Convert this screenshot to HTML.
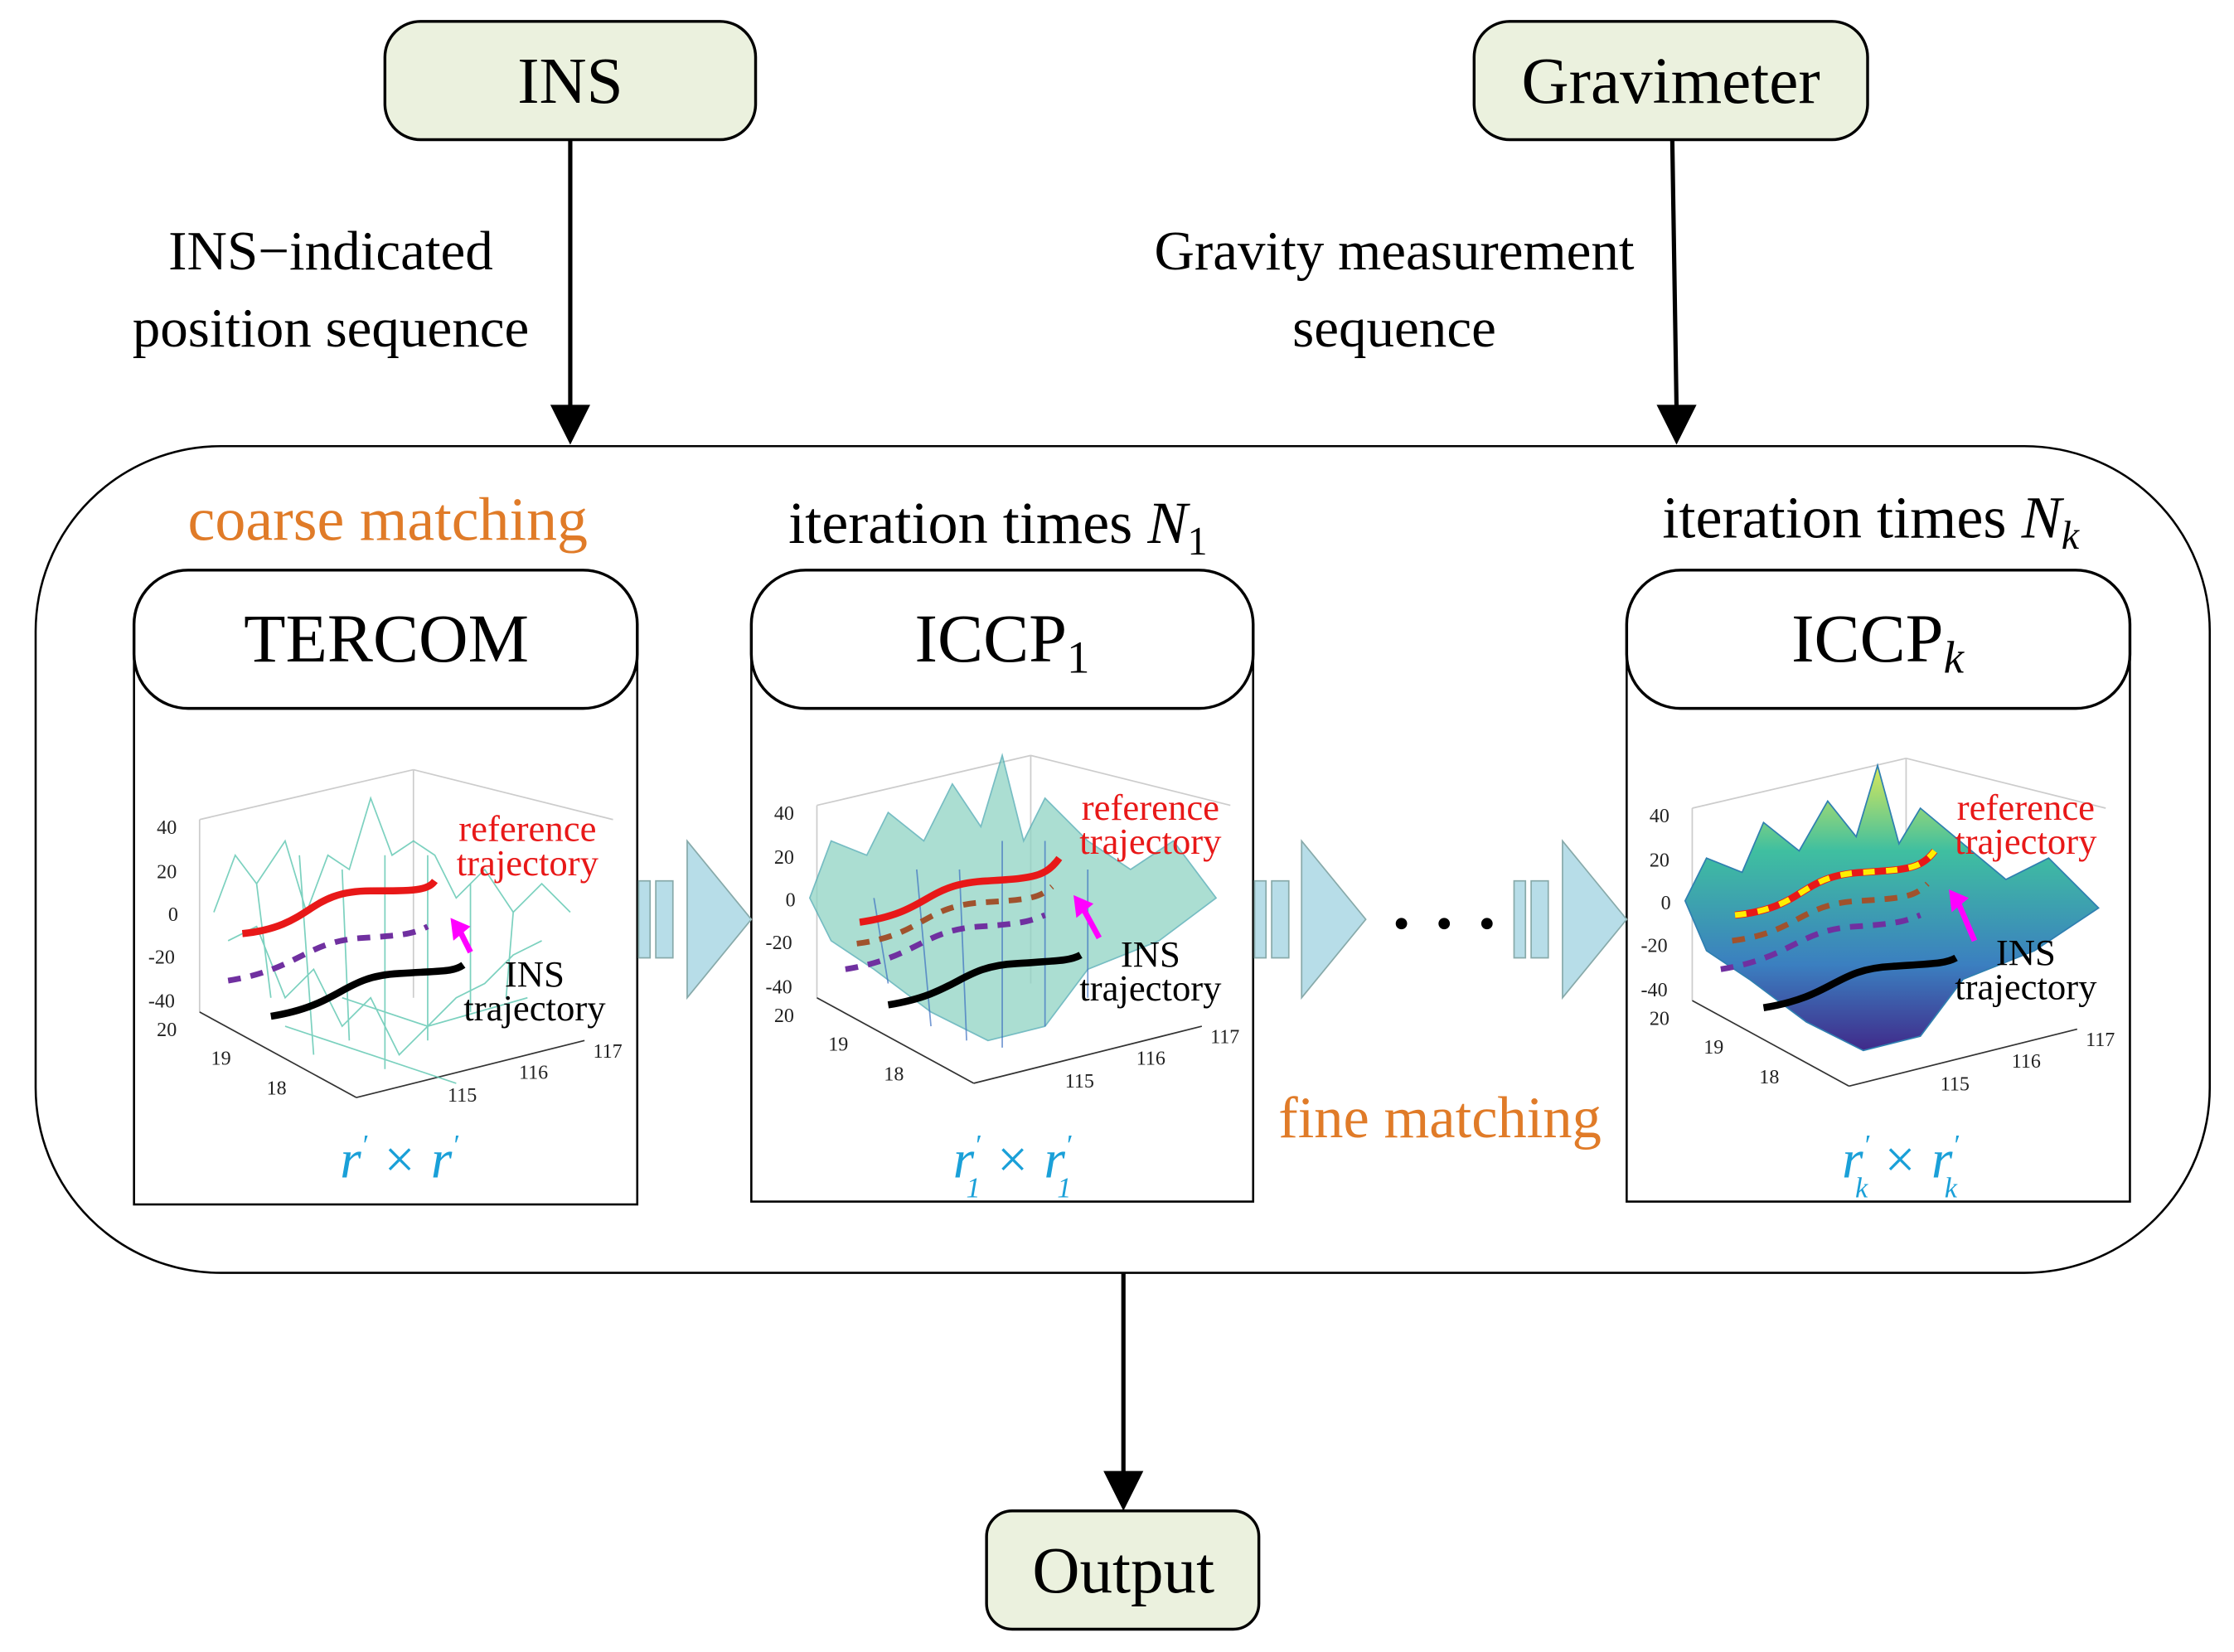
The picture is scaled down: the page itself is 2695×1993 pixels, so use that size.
<!DOCTYPE html>
<html><head><meta charset="utf-8">
<style>
html,body{margin:0;padding:0;background:#fff;}
svg{display:block;}
text{font-family:"Liberation Serif",serif;}
</style></head>
<body>
<svg width="2695" height="1993" viewBox="0 0 1567 1159" preserveAspectRatio="none" xmlns="http://www.w3.org/2000/svg">
<defs>
<linearGradient id="surf" x1="0" y1="0" x2="0" y2="1">
<stop offset="0" stop-color="#d8e85a"/><stop offset="0.3" stop-color="#3fbfa0"/><stop offset="0.7" stop-color="#3b7fc0"/><stop offset="1" stop-color="#402a8a"/>
</linearGradient>
<g id="plot">
<g stroke="#ccc" stroke-width="1" fill="none">
<line x1="140" y1="575" x2="290" y2="540"/><line x1="290" y1="540" x2="290" y2="700"/>
<line x1="290" y1="540" x2="430" y2="575"/><line x1="140" y1="575" x2="140" y2="710"/>
</g>
<g stroke="#333" stroke-width="1" fill="none">
<line x1="140" y1="710" x2="250" y2="770"/><line x1="250" y1="770" x2="410" y2="730"/>
</g>
<g font-family="Liberation Sans,sans-serif" font-size="14" fill="#222">
<text x="110" y="585">40</text><text x="110" y="616">20</text><text x="118" y="646">0</text>
<text x="104" y="676">-20</text><text x="104" y="707">-40</text><text x="110" y="727">20</text>
<text x="148" y="747">19</text><text x="187" y="768">18</text>
<text x="314" y="773">115</text><text x="364" y="757">116</text><text x="416" y="742">117</text>
</g>
</g>
</defs>

<rect x="270" y="15" width="260" height="83" rx="25" fill="#ebf1de" stroke="#000" stroke-width="2"/>
<text x="400" y="72" font-size="46" text-anchor="middle">INS</text>
<rect x="1034" y="15" width="276" height="83" rx="25" fill="#ebf1de" stroke="#000" stroke-width="2"/>
<text x="1172" y="72" font-size="46" text-anchor="middle">Gravimeter</text>

<line x1="400" y1="98" x2="400" y2="288" stroke="#000" stroke-width="3"/>
<polygon points="386,284 414,284 400,312" fill="#000"/>
<line x1="1173" y1="98" x2="1176" y2="288" stroke="#000" stroke-width="3"/>
<polygon points="1162,284 1190,284 1176,312" fill="#000"/>

<text x="232" y="189" font-size="39" text-anchor="middle">INS−indicated</text>
<text x="232" y="243" font-size="39" text-anchor="middle">position sequence</text>
<text x="978" y="189" font-size="39" text-anchor="middle">Gravity measurement</text>
<text x="978" y="243" font-size="39" text-anchor="middle">sequence</text>

<rect x="25" y="313" width="1525" height="580" rx="130" fill="none" stroke="#000" stroke-width="1.5"/>

<text x="272" y="379" font-size="43" fill="#e07b28" text-anchor="middle">coarse matching</text>
<text x="553" y="381" font-size="42">iteration times <tspan font-style="italic">N</tspan><tspan font-size="28" dy="8">1</tspan></text>
<text x="1166" y="377" font-size="42">iteration times <tspan font-style="italic">N</tspan><tspan font-size="28" font-style="italic" dy="8">k</tspan></text>
<text x="1010" y="798" font-size="41" fill="#e07b28" text-anchor="middle">fine matching</text>

<rect x="94" y="448" width="353" height="397" fill="#fff" stroke="#000" stroke-width="1.5"/>
<rect x="94" y="400" width="353" height="97" rx="38" fill="#fff" stroke="#000" stroke-width="2"/>
<text x="271" y="464" font-size="48" text-anchor="middle">TERCOM</text>

<rect x="527" y="448" width="352" height="395" fill="#fff" stroke="#000" stroke-width="1.5"/>
<rect x="527" y="400" width="352" height="97" rx="38" fill="#fff" stroke="#000" stroke-width="2"/>
<text x="703" y="464" font-size="48" text-anchor="middle">ICCP<tspan font-size="32" dy="8">1</tspan></text>

<rect x="1141" y="448" width="353" height="395" fill="#fff" stroke="#000" stroke-width="1.5"/>
<rect x="1141" y="400" width="353" height="97" rx="38" fill="#fff" stroke="#000" stroke-width="2"/>
<text x="1317" y="464" font-size="48" text-anchor="middle">ICCP<tspan font-size="32" font-style="italic" dy="8">k</tspan></text>

<g>
<use href="#plot"/>
<g stroke="#5cc6b0" stroke-width="1" fill="none" opacity="0.8">
<path d="M150,640 L165,600 L180,620 L200,590 L215,640 L230,600 L245,610 L260,560 L275,600 L290,590 L305,600 L320,630 L340,610 L360,640 L380,620 L400,640"/>
<path d="M160,660 L180,650 L200,700 L220,680 L240,720 L260,700 L280,740 L300,720 L320,700 L340,690 L360,670 L380,660"/>
<path d="M180,620 L190,700 M210,600 L220,740 M240,610 L245,730 M270,600 L270,750 M300,600 L300,730 M330,620 L330,710 M360,640 L355,700"/>
<path d="M200,720 L260,740 L320,760 M240,700 L300,720 L370,700"/>
</g>
<path d="M170,655 C220,650 215,625 260,625 C290,625 300,625 305,618" stroke="#e81818" stroke-width="5" fill="none"/>
<path d="M160,688 C210,680 215,660 255,658 C285,656 290,655 300,650" stroke="#7030a0" stroke-width="4" stroke-dasharray="9,7" fill="none"/>
<path d="M190,713 C240,705 240,685 280,683 C310,681 318,682 325,677" stroke="#000" stroke-width="5" fill="none"/>
<line x1="330" y1="668" x2="322" y2="652" stroke="#f0f" stroke-width="4"/>
<polygon points="316,644 330,650 318,660" fill="#f0f"/>
<text x="370" y="590" font-size="26" fill="#e81818" text-anchor="middle">reference</text>
<text x="370" y="614" font-size="26" fill="#e81818" text-anchor="middle">trajectory</text>
<text x="375" y="692" font-size="26" text-anchor="middle">INS</text>
<text x="375" y="716" font-size="26" text-anchor="middle">trajectory</text>
</g>
<text x="280" y="826" font-size="38" fill="#1aa0d8" text-anchor="middle" font-style="italic">r<tspan font-size="20" dy="-16">′</tspan><tspan dy="16"> × r</tspan><tspan font-size="20" dy="-16">′</tspan></text>

<g transform="translate(433,-10)">
<use href="#plot"/>
<path d="M135,640 L150,600 L175,610 L190,580 L215,600 L235,560 L255,590 L270,540 L285,600 L300,570 L330,600 L360,620 L390,600 L420,640 L380,670 L330,690 L300,730 L260,740 L220,720 L180,690 L150,670 Z" fill="#8fd3c4" stroke="#4aa8b0" stroke-width="1" opacity="0.75"/>
<g stroke="#3c6fc0" stroke-width="1" fill="none" opacity="0.7">
<path d="M180,640 L190,700 M210,620 L220,730 M240,620 L245,740 M270,600 L270,745 M300,600 L300,730 M330,620 L330,710"/>
</g>
<path d="M170,657 C220,650 215,630 260,628 C290,626 300,626 310,612" stroke="#e81818" stroke-width="5" fill="none"/>
<path d="M168,672 C215,666 215,645 258,643 C290,641 296,640 305,632" stroke="#a0522d" stroke-width="4" stroke-dasharray="9,7" fill="none"/>
<path d="M160,690 C210,682 215,662 255,660 C285,658 290,656 300,652" stroke="#7030a0" stroke-width="4" stroke-dasharray="9,7" fill="none"/>
<path d="M190,715 C240,707 240,688 280,686 C310,684 318,684 325,680" stroke="#000" stroke-width="5" fill="none"/>
<line x1="338" y1="668" x2="326" y2="646" stroke="#f0f" stroke-width="4"/>
<polygon points="320,638 334,644 322,654" fill="#f0f"/>
<text x="374" y="585" font-size="26" fill="#e81818" text-anchor="middle">reference</text>
<text x="374" y="609" font-size="26" fill="#e81818" text-anchor="middle">trajectory</text>
<text x="374" y="688" font-size="26" text-anchor="middle">INS</text>
<text x="374" y="712" font-size="26" text-anchor="middle">trajectory</text>
</g>
<text x="710" y="826" font-size="38" fill="#1aa0d8" text-anchor="middle" font-style="italic">r<tspan font-size="20" dy="-16">′</tspan><tspan font-size="20" dx="-10" dy="30">1</tspan><tspan dy="-14"> × r</tspan><tspan font-size="20" dy="-16">′</tspan><tspan font-size="20" dx="-10" dy="30">1</tspan></text>

<g transform="translate(1047,-8)">
<use href="#plot"/>
<path d="M135,640 L150,610 L175,620 L190,585 L215,605 L235,570 L255,595 L270,545 L285,600 L300,575 L330,600 L360,625 L390,610 L425,645 L380,675 L330,695 L300,735 L260,745 L220,725 L180,695 L150,675 Z" fill="url(#surf)" stroke="#2f7fb0" stroke-width="1"/>
<path d="M170,650 C220,645 215,622 260,620 C290,618 300,618 310,605" stroke="#e81818" stroke-width="5" fill="none"/>
<path d="M170,650 C220,645 215,622 260,620 C290,618 300,618 310,605" stroke="#ffee00" stroke-width="4" stroke-dasharray="8,8" fill="none"/>
<path d="M168,668 C215,662 215,642 258,640 C290,638 296,637 305,628" stroke="#a0522d" stroke-width="4" stroke-dasharray="9,7" fill="none"/>
<path d="M160,688 C210,680 215,660 255,658 C285,656 290,654 300,650" stroke="#7030a0" stroke-width="4" stroke-dasharray="9,7" fill="none"/>
<path d="M190,715 C240,707 240,688 280,686 C310,684 318,684 325,680" stroke="#000" stroke-width="5" fill="none"/>
<line x1="338" y1="668" x2="326" y2="640" stroke="#f0f" stroke-width="4"/>
<polygon points="320,632 334,638 322,648" fill="#f0f"/>
<text x="374" y="583" font-size="26" fill="#e81818" text-anchor="middle">reference</text>
<text x="374" y="607" font-size="26" fill="#e81818" text-anchor="middle">trajectory</text>
<text x="374" y="685" font-size="26" text-anchor="middle">INS</text>
<text x="374" y="709" font-size="26" text-anchor="middle">trajectory</text>
</g>
<text x="1333" y="826" font-size="38" fill="#1aa0d8" text-anchor="middle" font-style="italic">r<tspan font-size="20" dy="-16">′</tspan><tspan font-size="20" dx="-10" dy="30">k</tspan><tspan dy="-14"> × r</tspan><tspan font-size="20" dy="-16">′</tspan><tspan font-size="20" dx="-10" dy="30">k</tspan></text>

<g fill="#b7dde8" stroke="#8aa" stroke-width="1">
<rect x="448" y="618" width="8" height="54"/><rect x="460" y="618" width="12" height="54"/>
<polygon points="482,618 482,590 527,645 482,700 482,672"/>
<rect x="880" y="618" width="8" height="54"/><rect x="892" y="618" width="12" height="54"/>
<polygon points="913,618 913,590 958,645 913,700 913,672"/>
<rect x="1062" y="618" width="8" height="54"/><rect x="1074" y="618" width="12" height="54"/>
<polygon points="1096,618 1096,590 1141,645 1096,700 1096,672"/>
</g>
<circle cx="983" cy="648" r="4" fill="#000"/><circle cx="1013" cy="648" r="4" fill="#000"/><circle cx="1043" cy="648" r="4" fill="#000"/>

<line x1="788" y1="893" x2="788" y2="1036" stroke="#000" stroke-width="3"/>
<polygon points="774,1032 802,1032 788,1060" fill="#000"/>
<rect x="692" y="1060" width="191" height="83" rx="18" fill="#ebf1de" stroke="#000" stroke-width="2"/>
<text x="788" y="1117" font-size="46" text-anchor="middle">Output</text>
</svg>
</body></html>
